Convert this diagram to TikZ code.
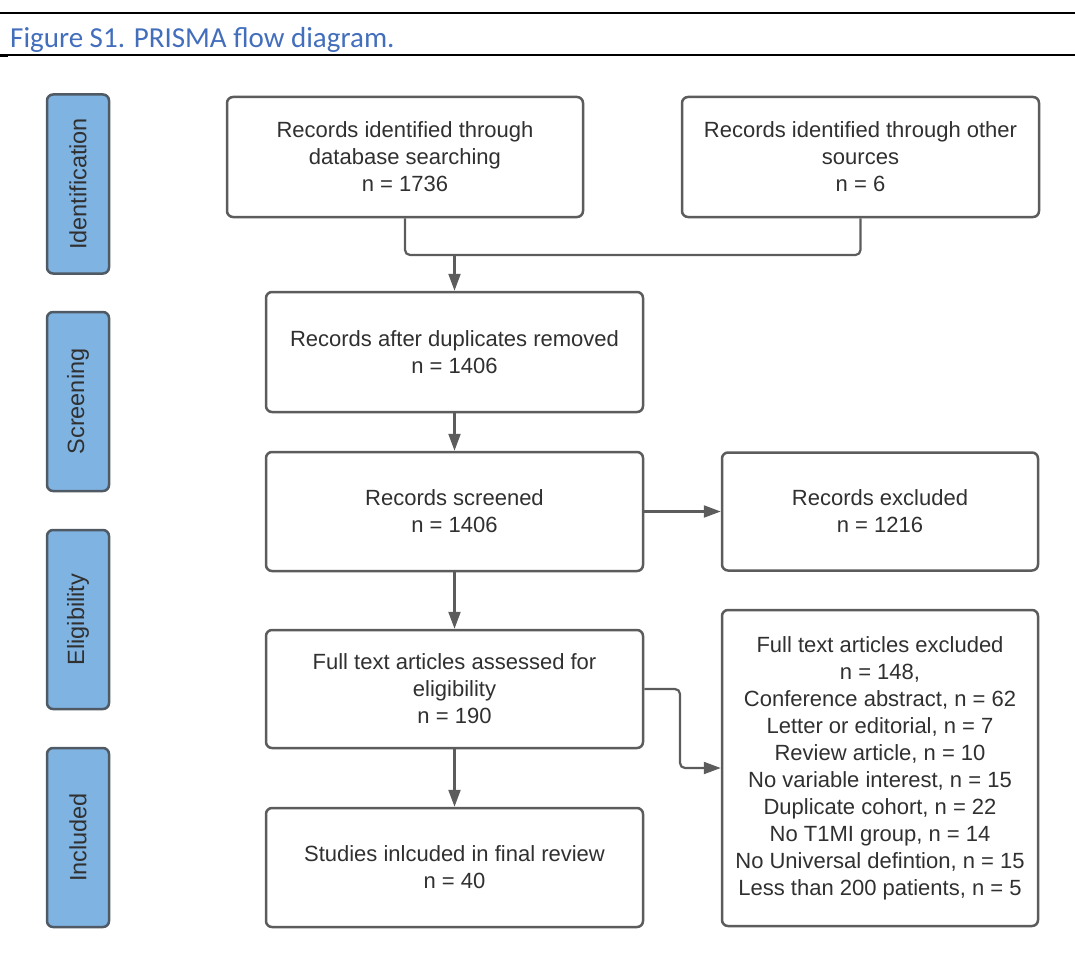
\documentclass[tikz,border=0pt]{standalone}
\usepackage{fontspec}
\setmainfont{Liberation Sans}
\newfontfamily\capfont{Carlito}
\usetikzlibrary{arrows.meta}
\definecolor{boxline}{RGB}{92,92,92}
\definecolor{boxtext}{RGB}{48,48,48}
\definecolor{stagefill}{RGB}{127,179,226}
\definecolor{stageline}{RGB}{80,90,100}
\definecolor{capblue}{RGB}{66,110,188}
\tikzset{
  flowbox/.style={draw=boxline, line width=2.5pt, rounded corners=6pt, fill=white,
    align=center, text=boxtext, inner sep=0pt, font=\fontsize{22}{27}\selectfont},
  stagebox/.style={draw=stageline, fill=stagefill, line width=2.5pt, rounded corners=6pt,
    rotate=90, minimum width=179pt, minimum height=62pt, inner sep=0pt,
    text=boxtext, font=\fontsize{23.5}{28}\selectfont},
  link/.style={draw=boxline, line width=2.2pt, rounded corners=5pt},
  arrowlink/.style={link, -{Triangle[length=17pt,width=12pt]}}
}
\begin{document}
\begin{tikzpicture}[x=1pt,y=-1pt]
\useasboundingbox (0,0) rectangle (1075,960);
% caption
\draw[line width=2pt] (0,13) -- (1075,13);
\node[anchor=base west, inner sep=0pt, text=capblue, font=\capfont\fontsize{29}{34}\selectfont] (caption) at (10,48) {Figure S1. PRISMA flow diagram.};
\draw[line width=1.2pt] (0,55) -- (1075,55);
\draw[line width=2pt] (0,56.5) -- (8,56.5);

% stages on the left
\node[stagebox] (identification) at (78,184) {Identification};
\node[stagebox] (screening) at (78,401.5) {Screening};
\node[stagebox] (eligibility) at (78,619.5) {Eligibility};
\node[stagebox] (included) at (78,837.5) {Included};

% flow boxes
\node[flowbox, minimum width=356pt, minimum height=120pt] (dbsearch) at (405,157)
  {Records identified through\\database searching\\n = 1736};
\node[flowbox, minimum width=357pt, minimum height=120pt] (othersrc) at (860.5,157)
  {Records identified through other\\sources\\n = 6};
\node[flowbox, minimum width=377pt, minimum height=120pt] (dedup) at (454.5,352)
  {Records after duplicates removed\\n = 1406};
\node[flowbox, minimum width=377pt, minimum height=119pt] (screened) at (454.5,511.5)
  {Records screened\\n = 1406};
\node[flowbox, minimum width=316pt, minimum height=118pt] (excluded) at (880,511.5)
  {Records excluded\\n = 1216};
\node[flowbox, minimum width=377pt, minimum height=118pt] (fulltext) at (454.5,689)
  {Full text articles assessed for\\eligibility\\n = 190};
\node[flowbox, minimum width=316pt, minimum height=316pt] (ftexcluded) at (880,768)
  {Full text articles excluded\\n = 148,\\Conference abstract, n = 62\\Letter or editorial, n = 7\\Review article, n = 10\\No variable interest, n = 15\\Duplicate cohort, n = 22\\No T1MI group, n = 14\\No Universal defintion, n = 15\\Less than 200 patients, n = 5};
\node[flowbox, minimum width=377pt, minimum height=119pt] (studies) at (454.5,867.5)
  {Studies inlcuded in final review\\n = 40};

% connectors
\coordinate (merge) at (454.5,255);
\coordinate (bend) at (680,689);
\draw[link] (dbsearch.south) |- (merge) -| (othersrc.south);
\draw[arrowlink] (merge) -- (dedup.north);
\draw[arrowlink] (dedup) -- (screened);
\draw[arrowlink] (screened) -- (excluded);
\draw[arrowlink] (screened) -- (fulltext);
\draw[arrowlink] (fulltext.east) -- (bend) |- (ftexcluded.west);
\draw[arrowlink] (fulltext) -- (studies);
\end{tikzpicture}
\end{document}
